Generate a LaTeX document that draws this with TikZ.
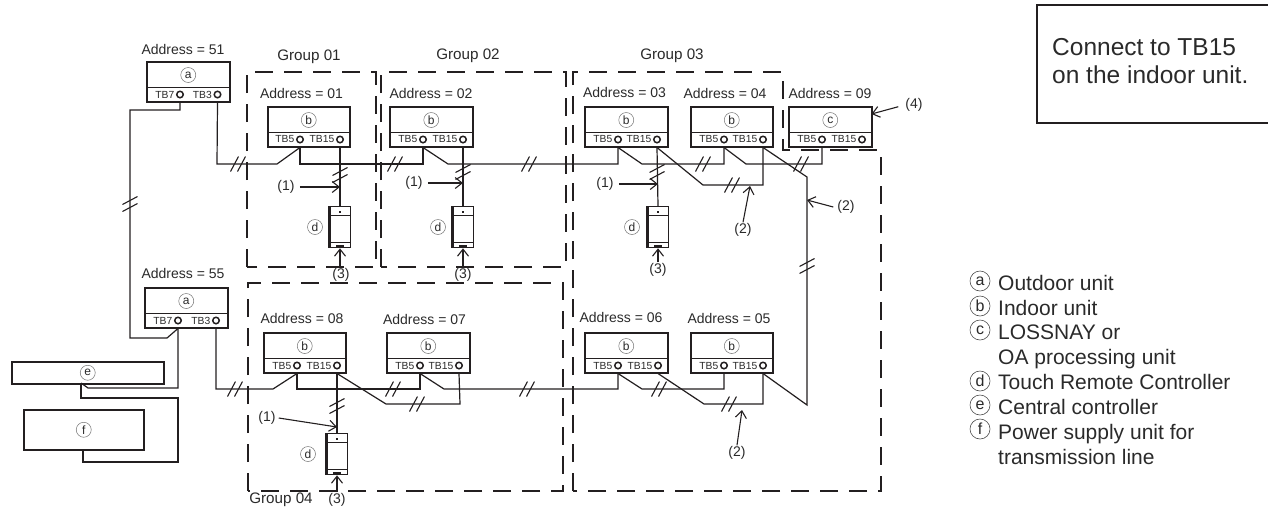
\documentclass[tikz,border=0pt]{standalone}
\usepackage{fontspec}
\setmainfont{Liberation Sans}
\usetikzlibrary{arrows.meta}
\definecolor{ink}{HTML}{231F20}
\definecolor{txt}{HTML}{2A2A2A}
\tikzset{
  unitbox/.style={draw=ink,line width=1.5pt,fill=white,rectangle,anchor=north west,inner sep=0pt,minimum height=40pt},
  letter/.style={circle,draw=black!55,line width=0.5pt,inner sep=0pt,minimum size=15pt,font=\fontsize{12}{12}\selectfont,text=txt,fill=white},
  legendletter/.style={circle,draw=black!70,line width=0.6pt,inner sep=0pt,minimum size=20pt,font=\fontsize{16}{16}\selectfont,text=txt},
  term/.style={circle,draw=ink,line width=1.5pt,fill=white,inner sep=0pt,minimum size=6.5pt},
  termtext/.style={anchor=east,inner sep=0pt,font=\fontsize{10.3}{10.3}\selectfont,text=txt},
  addr/.style={inner sep=0pt,font=\fontsize{14}{14}\selectfont,text=txt},
  grplabel/.style={inner sep=0pt,font=\fontsize{15.2}{15.2}\selectfont,text=txt},
  callout/.style={inner sep=1pt,font=\fontsize{14}{14}\selectfont,text=txt},
  wire/.style={draw=ink,line width=1.2pt,line join=miter},
  grp/.style={draw=ink,line width=1.2pt,dash pattern=on 18pt off 11pt},
  pointer/.style={draw=ink,line width=1.1pt,-{Straight Barb[length=7pt,width=11pt,line width=1.1pt]}},
  slash/.style={draw=ink,line width=1.1pt},
  legendtext/.style={anchor=base west,inner sep=0pt,font=\fontsize{21}{21}\selectfont,text=txt},
}
% #1 name, #2 x, #3 y, #4 letter, #5 width, #6 #7 terminal labels, #8 #9 terminal x offsets
\newcommand{\unitbox}[9]{%
  \node[unitbox,minimum width=#5pt] (#1) at (#2,#3) {};
  \draw[draw=ink,line width=1.1pt] ([yshift=-26.5pt]#1.north west) -- ([yshift=-26.5pt]#1.north east);
  \node[letter] (#1-l) at ([yshift=-14pt]#1.north) {#4};
  \node[term] (#1-a) at ([xshift=#8pt,yshift=-33.5pt]#1.north west) {};
  \node[term] (#1-b) at ([xshift=#9pt,yshift=-33.5pt]#1.north west) {};
  \node[termtext] (#1-at) at ([xshift=-1.5pt]#1-a.west) {#6};
  \node[termtext] (#1-bt) at ([xshift=-1.5pt]#1-b.west) {#7};
  \coordinate (#1-A) at (#1-a |- #1.south);
  \coordinate (#1-B) at (#1-b |- #1.south);
}
% remote controller: #1 name, #2 centre x, #3 top y
\newcommand{\remote}[3]{%
  \node[draw=ink,line width=1.3pt,fill=white,rectangle,inner sep=0pt,minimum width=21pt,minimum height=41pt,anchor=north] (#1) at (#2,#3) {};
  \draw[draw=ink,line width=2.4pt] ([xshift=0.6pt]#1.north west) -- ([xshift=0.6pt]#1.south west);
  \draw[draw=ink,line width=1.2pt] ([yshift=-9.5pt]#1.north west) -- ([yshift=-9.5pt]#1.north east);
  \draw[draw=ink,line width=1.2pt] ([yshift=6pt]#1.south west) -- ([yshift=6pt]#1.south east);
  \fill[ink] ([xshift=-1.2pt,yshift=-5pt]#1.north) rectangle ([xshift=1.2pt,yshift=-7pt]#1.north);
  \fill[ink] ([xshift=-4pt,yshift=1pt]#1.south) rectangle ([xshift=4pt,yshift=3.5pt]#1.south);
}
\newcommand{\tickh}[2]{%
  \draw[slash] (#1,#2) ++(-7.5,7.5) -- ++(8,-15);
  \draw[slash] (#1,#2) ++(-0.5,7.5) -- ++(8,-15);
}
\newcommand{\tickv}[2]{%
  \draw[slash] (#1,#2) ++(-7.5,0.5) -- ++(15,-8);
  \draw[slash] (#1,#2) ++(-7.5,7.5) -- ++(15,-8);
}
\begin{document}
\begin{tikzpicture}[x=1pt,y=-1pt]
\useasboundingbox (0,0) rectangle (1268,507);

% group frames
\draw[grp] (247,267) -- (247,72) -- (376,72) -- (376,267) -- cycle;
\draw[grp] (381,267) -- (381,72) -- (566,72) -- (566,267) -- cycle;
\draw[grp] (573,491) -- (573,72) -- (783,72) -- (783,150) -- (881,150) -- (881,491) -- cycle;
\draw[grp] (248,491) -- (248,283) -- (563,283) -- (563,491) -- cycle;
\node[grplabel] (g1) at (309,57) {Group 01};
\node[grplabel] (g2) at (468,56) {Group 02};
\node[grplabel] (g3) at (672,56) {Group 03};
\node[grplabel] (g4) at (281,500) {Group 04};

% units
\unitbox{o51}{146}{61}{a}{83}{TB7}{TB3}{34}{71.5}
\unitbox{o55}{144}{287}{a}{83}{TB7}{TB3}{34}{72}
\unitbox{i01}{267}{106}{b}{82}{TB5}{TB15}{33}{73}
\unitbox{i02}{389}{106}{b}{83}{TB5}{TB15}{34}{74}
\unitbox{i03}{584}{106}{b}{83}{TB5}{TB15}{34}{73}
\unitbox{i04}{690}{106}{b}{82}{TB5}{TB15}{34}{73}
\unitbox{i09}{788}{106}{c}{83}{TB5}{TB15}{34}{74}
\unitbox{i08}{263}{332}{b}{82}{TB5}{TB15}{34}{74}
\unitbox{i07}{386}{332}{b}{83}{TB5}{TB15}{34}{73}
\unitbox{i06}{584}{332}{b}{83}{TB5}{TB15}{34}{74}
\unitbox{i05}{690}{332}{b}{82}{TB5}{TB15}{34}{73}

\node[addr] (a51) at (183,49) {Address = 51};
\node[addr] (a55) at (183,273) {Address = 55};
\node[addr] (a01) at (301.5,93) {Address = 01};
\node[addr] (a02) at (431,93) {Address = 02};
\node[addr] (a03) at (624.5,92) {Address = 03};
\node[addr] (a04) at (725,93) {Address = 04};
\node[addr] (a09) at (830,93) {Address = 09};
\node[addr] (a08) at (302,318) {Address = 08};
\node[addr] (a07) at (424.5,319) {Address = 07};
\node[addr] (a06) at (621,317) {Address = 06};
\node[addr] (a05) at (729,318) {Address = 05};

% system controllers
\node[unitbox,minimum width=152pt,minimum height=22pt] (ce) at (11,361) {};
\node[letter] (ce-l) at (ce.center) {e};
\node[unitbox,minimum width=120pt,minimum height=40pt] (pf) at (23,409) {};
\node[letter] (pf-l) at (pf.center) {f};
\coordinate (ceb) at (81,383);
\coordinate (pfb) at (83,449);

% remotes
\remote{r1}{340}{206}
\remote{r2}{463}{206}
\remote{r3}{658}{206}
\remote{r4}{337}{433}
\node[letter] (r1-l) at (315,227) {d};
\node[letter] (r2-l) at (438,227) {d};
\node[letter] (r3-l) at (632,227) {d};
\node[letter] (r4-l) at (308,454) {d};

% wires, outdoor side
\draw[wire] (o51-A) -- (180,110) -- (130,110) -- (130,338) -- (167,338) -- (o55-A);
\draw[wire] (o51-B) -- (217,164) -- (277,164) -- (i01-A);
\draw[wire] (o55-B) -- (216,389) -- (273,389) -- (i08-A);
\draw[wire] (o55-A) -- (178,388) -- (88,388) -- (ceb);
\draw[wire] (ceb) -- (81,398) -- (178,398) -- (178,462) -- (83,462) -- (pfb);

% wires, upper row
\draw[wire] (i01-A) -- (300,164) -- (423,164) -- (i02-A);
\draw[wire] (i02-A) -- (448,164) -- (618,164) -- (i03-A);
\draw[wire] (i03-A) -- (642,164) -- (724,164) -- (i04-A);
\draw[wire] (i04-A) -- (746,164) -- (822,164) -- (i09-A);
\draw[wire] (i03-B) -- (703,185) -- (763,185) -- (i04-B);
\draw[wire] (i04-B) -- (807,177) -- (807,405) -- (i05-B);

% wires, lower row
\draw[wire] (i08-A) -- (297,389) -- (420,389) -- (i07-A);
\draw[wire] (i07-A) -- (444,389) -- (618,389) -- (i06-A);
\draw[wire] (i06-A) -- (642,389) -- (724,389) -- (i05-A);
\draw[wire] (i08-B) -- (386,404) -- (460,404) -- (i07-B);
\draw[wire] (i06-B) -- (704,404) -- (763,404) -- (i05-B);

% wires to remotes
\draw[wire] (i01-B) -- (r1.north);
\draw[wire] (i02-B) -- (r2.north);
\draw[wire] (i03-B) -- (r3.north);
\draw[wire] (i08-B) -- (r4.north);

% crossing marks
\tickh{238}{164}
\tickh{395}{164}
\tickh{529}{164}
\tickh{703}{164}
\tickh{801}{164}
\tickh{732}{185}
\tickh{235}{389}
\tickh{393}{389}
\tickh{527}{389}
\tickh{659}{389}
\tickh{417}{404}
\tickh{729}{404}
\tickv{130}{204}
\tickv{340}{175}
\tickv{463}{172}
\tickv{657}{172}
\tickv{807}{266}
\tickv{337}{406}

% callouts
\node[callout] (c1a) at (286,187) {(1)};
\coordinate (c1at) at (340,187);
\draw[pointer] (c1a.east) ++(4,0) -- (c1at);
\node[callout] (c1b) at (414,183) {(1)};
\coordinate (c1bt) at (463,183);
\draw[pointer] (c1b.east) ++(4,0) -- (c1bt);
\node[callout] (c1c) at (605,184) {(1)};
\coordinate (c1ct) at (658,184);
\draw[pointer] (c1c.east) ++(4,0) -- (c1ct);
\node[callout] (c1d) at (267,418) {(1)};
\coordinate (c1dt) at (337,427);
\draw[pointer] (c1d.east) ++(2,0) -- (c1dt);

\node[callout] (c3a) at (341,275) {(3)};
\draw[pointer] (c3a.north) ++(-1,0) -- (r1.south);
\node[callout] (c3b) at (463,275) {(3)};
\draw[pointer] (c3b.north) -- (r2.south);
\node[callout] (c3c) at (658,270) {(3)};
\draw[pointer] (c3c.north) -- (r3.south);
\node[callout] (c3d) at (337,500) {(3)};
\draw[pointer] (c3d.north) -- (r4.south);

\node[callout] (c2a) at (743,230) {(2)};
\coordinate (c2at) at (750,186);
\draw[pointer] (c2a.north) -- (c2at);
\node[callout] (c2b) at (846,207) {(2)};
\coordinate (c2bt) at (807,200);
\draw[pointer] (c2b.west) ++(-3,0) -- (c2bt);
\node[callout] (c2c) at (737,453) {(2)};
\coordinate (c2ct) at (742,410);
\draw[pointer] (c2c.north) -- (c2ct);
\node[callout] (c4) at (914,105) {(4)};
\coordinate (c4t) at (871.5,114);
\draw[pointer] (c4.south west) ++(-6,-6) -- (c4t);

% note box
\draw[draw=ink,line width=1.5pt] (1268,5) -- (1037,5) -- (1037,123) -- (1268,123);
\node[anchor=base west,inner sep=0pt,font=\fontsize{24.5}{24.5}\selectfont,text=txt] (note1) at (1052,55) {Connect to TB15};
\node[anchor=base west,inner sep=0pt,font=\fontsize{24.5}{24.5}\selectfont,text=txt] (note2) at (1052,83) {on the indoor unit.};

% legend
\node[legendletter] (la) at (980,281) {a};
\node[legendletter] (lb) at (980,306) {b};
\node[legendletter] (lc) at (980,330) {c};
\node[legendletter] (ld) at (980,381) {d};
\node[legendletter] (le) at (980,405) {e};
\node[legendletter] (lf) at (980,429) {f};
\node[legendtext] (t1) at (998,290) {Outdoor unit};
\node[legendtext] (t2) at (998,315) {Indoor unit};
\node[legendtext] (t3) at (998,339) {LOSSNAY or};
\node[legendtext] (t4) at (998,364) {OA processing unit};
\node[legendtext] (t5) at (998,389) {Touch Remote Controller};
\node[legendtext] (t6) at (998,414) {Central controller};
\node[legendtext] (t7) at (998,439) {Power supply unit for};
\node[legendtext] (t8) at (998,464) {transmission line};
\end{tikzpicture}
\end{document}
